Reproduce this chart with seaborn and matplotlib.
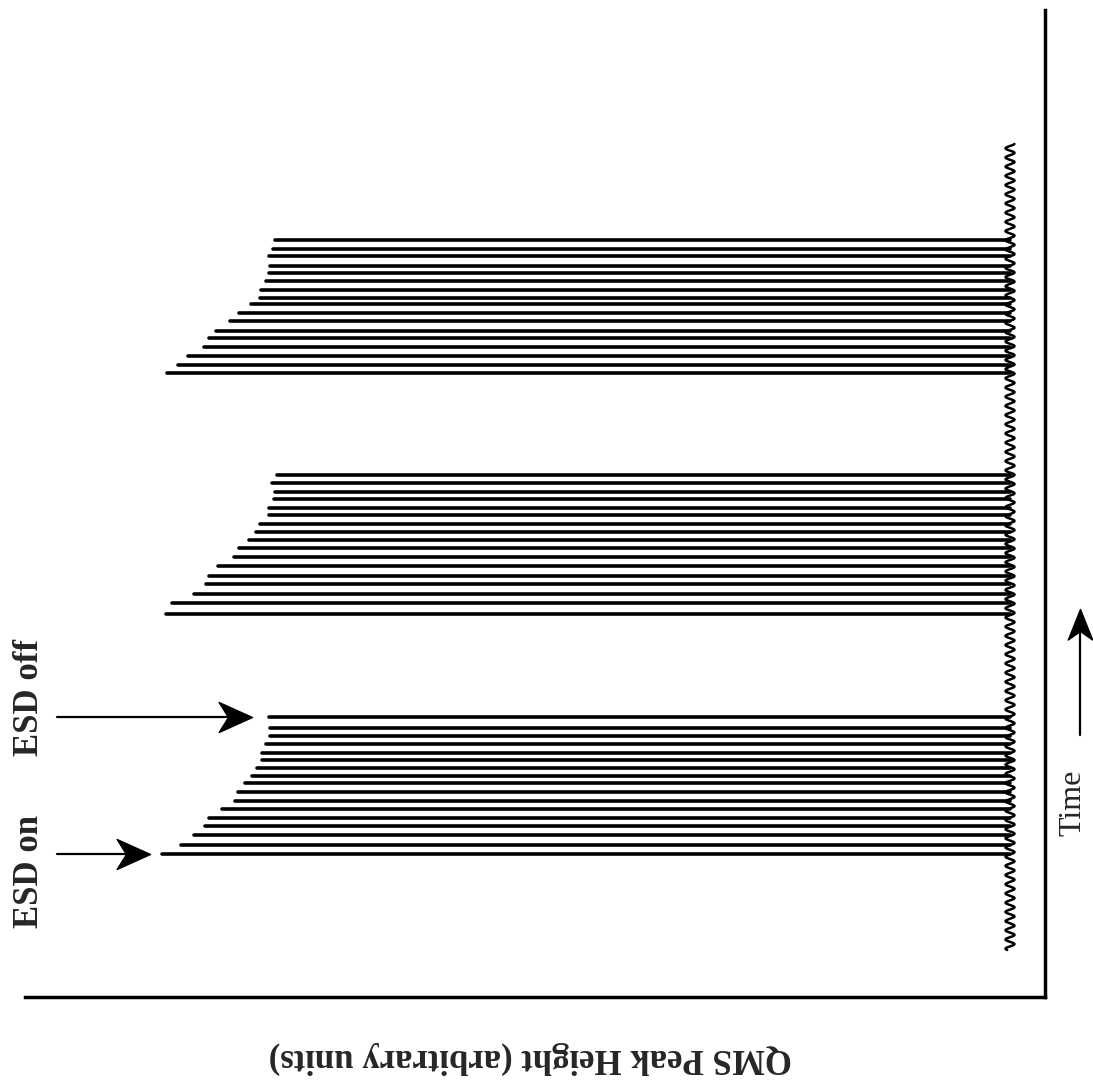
import numpy as np
import pandas as pd
import matplotlib
matplotlib.use("Agg")
import matplotlib.pyplot as plt
import seaborn as sns
from matplotlib.path import Path

# ---------------- data ----------------
# time of each QMS scan (arbitrary time units) and peak height (arbitrary units)
time_g1 = [27.97, 26.87, 26.10, 25.30, 24.45, 23.70, 22.90, 22.10, 21.37, 20.50,
           19.65, 18.77, 17.95, 17.10, 16.20, 15.25, 14.35]
height_g1 = [74.1, 74.0, 74.0, 74.4, 74.8, 74.8, 75.3, 75.8, 76.5, 77.2,
             77.5, 78.8, 80.1, 80.5, 81.6, 82.9, 84.8]
time_g2 = [52.20, 51.43, 50.47, 49.77, 48.93, 48.20, 47.30, 46.53, 45.70, 44.87,
           43.97, 43.10, 42.10, 41.27, 40.27, 39.37, 38.30]
height_g2 = [73.3, 73.8, 73.5, 73.6, 74.1, 74.1, 75.0, 75.4, 76.1, 77.1,
             77.6, 79.2, 80.1, 80.4, 81.6, 83.8, 84.4]
time_g3 = [75.70, 74.80, 74.10, 73.13, 72.37, 71.57, 70.70, 69.93, 69.30, 68.37,
           67.63, 66.63, 65.87, 64.97, 64.10, 63.20, 62.37]
height_g3 = [73.5, 73.7, 74.1, 74.0, 74.1, 74.4, 74.9, 75.0, 75.9, 77.1,
             78.0, 79.4, 80.1, 80.6, 82.2, 83.2, 84.3]
baseline_span = [4.7, 85.3]      # time range of recorded baseline
esd_on_time = 14.35
esd_off_time = 27.97

# ---------------- build long table ----------------
rows = []
pid = 0
for ts, hs in [(time_g1, height_g1), (time_g2, height_g2), (time_g3, height_g3)]:
    for t, h in zip(ts, hs):
        rows.append({"pid": pid, "height": 0.0, "time": t})
        rows.append({"pid": pid, "height": h, "time": t})
        pid += 1
peaks = pd.DataFrame(rows)

# baseline ripple (rendering texture of the noisy baseline)
tb = np.linspace(baseline_span[0], baseline_span[1], 3000)
ripple = 0.45 * np.sin(2 * np.pi * tb / 0.92)
base = pd.DataFrame({"height": ripple, "time": tb})

# ---------------- figure ----------------
sns.set_style("white")
plt.rcParams["font.family"] = ["Liberation Serif", "DejaVu Serif"]

fig = plt.figure(figsize=(10.93, 10.86), dpi=100)
ax = fig.add_axes([25 / 1093, 1 - 997 / 1086, 1020 / 1093, 987 / 1086])

sns.lineplot(data=base, x="height", y="time", sort=False, estimator=None,
             color="black", lw=1.8, ax=ax)
sns.lineplot(data=peaks, x="height", y="time", units="pid", estimator=None,
             sort=False, color="black", lw=2.6, ax=ax)

ax.set_xlim(98.5, -3.5)
ax.set_ylim(0, 98.7)
ax.set_xticks([])
ax.set_yticks([])
ax.set_xlabel("")
ax.set_ylabel("")
sns.despine(ax=ax, left=True, top=True, right=False, bottom=False)
for s in ["right", "bottom"]:
    ax.spines[s].set_linewidth(2.5)
    ax.spines[s].set_color("black")

# arrowhead marker (concave spear), tip at origin pointing +x
head_right = Path([(0, 0), (-1, 0.45), (-0.72, 0), (-1, -0.45), (0, 0)],
                  [Path.MOVETO, Path.LINETO, Path.LINETO, Path.LINETO, Path.CLOSEPOLY])
head_up = Path([(0, 0), (0.4, -1), (0, -0.72), (-0.4, -1), (0, 0)],
               [Path.MOVETO, Path.LINETO, Path.LINETO, Path.LINETO, Path.CLOSEPOLY])


def harrow(t, h_tail, h_tip):
    ax.plot([h_tail, h_tip + 1.5], [t, t], color="black", lw=1.6, clip_on=False)
    ax.plot([h_tip], [t], marker=head_right, ms=48, color="black",
            mec="black", clip_on=False)


harrow(esd_on_time, 95.3, 86.0)
harrow(esd_off_time, 95.3, 75.8)

# Time arrow (outside axes, to the right)
ax.plot([-7.0, -7.0], [26.2, 37.0], color="black", lw=1.6, clip_on=False)
ax.plot([-7.0], [38.8], marker=head_up, ms=44, color="black", clip_on=False)

fig.text(30 / 1093, 1 - 872 / 1086, "ESD on", rotation=90, fontsize=25,
         fontweight="bold", ha="center", va="center")
fig.text(30 / 1093, 1 - 697 / 1086, "ESD off", rotation=90, fontsize=25,
         fontweight="bold", ha="center", va="center")
fig.text(1073 / 1093, 1 - 803 / 1086, "Time", rotation=90, fontsize=23,
         ha="center", va="center")
fig.text(530 / 1093, 1 - 1058 / 1086, "QMS Peak Height (arbitrary units)",
         rotation=180, fontsize=25, fontweight="bold",
         ha="center", va="center")

fig.savefig("out.png", dpi=100)
